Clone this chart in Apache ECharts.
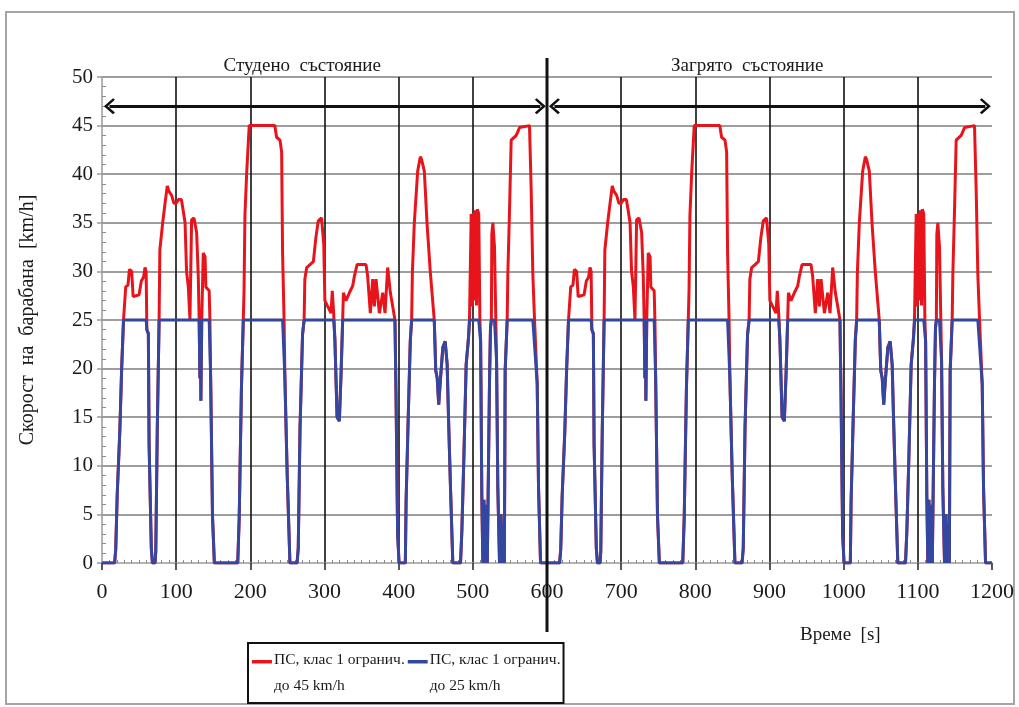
<!DOCTYPE html>
<html>
<head>
<meta charset="utf-8">
<script src="https://cdn.jsdelivr.net/npm/echarts@6/dist/echarts.min.js"></script>
<style>
html,body{margin:0;padding:0;background:#fff;}
#chart{width:1019px;height:707px;}
</style>
</head>
<body>
<div id="chart"></div>
<script>
// One test cycle (s); the chart shows it twice: cold state, then warm state
const cycleTime = [
  0,17,18.5,20.5,24,26.5,29,32,35,37,
  40,42,50,53,56,58,59.5,60.5,62.5,63.5,
  66.5,68,71.5,72.5,74.5,77,78,81.8,85,88,
  90,94,97,100,103,107,109,112,114,116.4,
  118.6,120.8,124,127.6,129.8,131,132,132.7,133.3,134.5,
  136.5,139,140,144.5,145.5,146.5,149,151.5,183,185,
  188,190.5,191.5,192.7,195,198.5,233,235.4,240,242.2,
  243.5,245.5,246.6,249.7,253.4,263,264.6,267,270.4,272.5,
  273.5,276,285,288.4,291.6,296,299,300.5,304.3,308.8,
  310.5,312.5,314,317,320,322.3,324.5,325.5,329,333.5,
  338,340.3,343.9,356,358.2,361.8,365,367.2,369.5,374,
  378.5,381.6,385.2,388.8,392,395,396.4,398.6,400.5,409,
  410,413,415.7,417.5,418.5,421.1,425.6,429.2,431,434.6,
  438.2,442.7,448,450,452,454,456.4,459.6,462.7,465.4,
  467.2,469.9,473,483.4,485.2,487.9,491,494.2,495.5,497.8,
  499,500.5,502,503.5,505,506,508,509.5,510.5,512.1,
  513.5,515,516.5,518,519.5,521.5,522.5,523.8,525,525.6,
  527,529.2,531,532,533.7,536,538,539.5,541,542.5,
  543.6,546.3,547.2,549.5,551.7,558.5,563,565,576.4,578.7,
  580.9,583.2,586.8,588.6,591.3,600
];
const redSpeed = [
  0,0,1.4,7,13.5,20,25,28.4,28.6,30.2,
  30,27.4,27.6,29,29.4,30.4,30,24,23.6,12.2,
  1.5,0,0,1.2,13.6,25,32.2,35,37,38.8,
  38.3,37.8,37,37,37.4,37.4,36.5,35,30,28.4,
  25,35.3,35.5,34,29.5,25,19,25,16.7,25,
  31.9,31.5,28.4,28,25,19,4.8,0,0,4.6,
  18,25,28,35.7,40,45,45,43.8,43.5,42.3,
  31.8,25,19,9.1,0,0,1.5,13.9,23.5,25,
  29.2,30.4,31,33.5,35.2,35.5,32.8,27,26.4,25.7,
  28,25.5,23,15,14.6,19.4,25,27.8,27,27.8,
  28.5,29.5,30.7,30.7,29.5,25.7,29.2,26.4,29.2,25.7,
  27.8,25.7,30.4,27.8,26.4,25,17.5,3,0,0,
  6.3,15.3,22.9,25,29.9,35,40.3,41.8,41.5,40.3,
  35,29.9,25,19.8,19,16.3,19,22.2,22.8,20.4,
  15,7.7,0,0,3.3,10.8,20.4,23.2,25,35.9,
  26.4,36,27,36.3,26.5,36.4,35.9,25,22.8,7,
  0,6.5,0,6,0,0,18.7,24.2,25,33.8,
  35,32.5,25,20.8,7.7,0,5,0,4,0,
  19.8,25,29.7,36.4,43.5,44,44.8,45,45,38.3,
  29.7,25,18.4,7.7,0,0
];
const blueSpeed = [
  0,0,1.4,7,13.5,20,25,25,25,25,
  25,25,25,25,25,25,25,24,23.6,12.2,
  1.5,0,0,1.2,13.6,25,25,25,25,25,
  25,25,25,25,25,25,25,25,25,25,
  25,25,25,25,25,25,19,25,16.7,25,
  25,25,25,25,25,19,4.8,0,0,4.6,
  18,25,25,25,25,25,25,25,25,25,
  25,25,19,9.1,0,0,1.5,13.9,23.5,25,
  25,25,25,25,25,25,25,25,25,25,
  25,25,23,15,14.6,19.4,25,25,25,25,
  25,25,25,25,25,25,25,25,25,25,
  25,25,25,25,25,25,17.5,3,0,0,
  6.3,15.3,22.9,25,25,25,25,25,25,25,
  25,25,25,19.8,19,16.3,19,22.2,22.8,20.4,
  15,7.7,0,0,3.3,10.8,20.4,23.2,25,25,
  25,25,25,25,25,25,25,25,22.8,7,
  0,6.5,0,6,0,0,18.7,24.2,25,25,
  25,25,25,20.8,7.7,0,5,0,4,0,
  19.8,25,25,25,25,25,25,25,25,25,
  25,25,18.4,7.7,0,0
];
const phaseStart = [0, 600];
const phaseEnd = [600, 1200];
const phaseNames = ['Студено  състояние', 'Загрято  състояние'];
const seriesNames = ['ПС, клас 1 огранич.\nдо 45 km/h', 'ПС, клас 1 огранич.\nдо 25 km/h'];
const seriesColors = ['#e8141c', '#3447a0'];
const xAxisTitle = 'Време  [s]';
const yAxisTitle = 'Скорост  на  барабана  [km/h]';
const arrowLevel = 47;

function buildSeries(values) {
  const out = [];
  phaseStart.forEach(function (s) {
    cycleTime.forEach(function (t, i) { out.push([t + s, values[i]]); });
  });
  return out;
}

const FONT = '"Liberation Serif", "DejaVu Serif", serif';
const chart = echarts.init(document.getElementById('chart'), null, {renderer: 'canvas'});

const chevron = 'path://M0,0L12,12L9.5,14.5L0,5L-9.5,14.5L-12,12Z';
const legendIcon = 'path://M0,0L20,0L20,3.5L0,3.5Z M0,26L0.1,26L0.1,26.1L0,26.1Z';

const option = {
  animation: false,
  backgroundColor: '#fff',
  grid: {left: 102, right: 27, top: 77, bottom: 144, containLabel: false},
  xAxis: [{
    type: 'value', min: 0, max: 1200, interval: 100,
    axisLine: {show: true, lineStyle: {color: '#9a9a9a', width: 1.5}},
    axisTick: {show: true, length: 7, lineStyle: {color: '#222', width: 1.5}},
    axisLabel: {color: '#1a1a1a', fontFamily: FONT, fontSize: 22, margin: 18,
      formatter: function (v) { return String(v); }},
    splitLine: {show: true, showMinLine: false, showMaxLine: false, lineStyle: {color: '#111', width: 1.6}},
    minorTick: {show: false}
  }, {
    type: 'value', min: 0, max: 1200, interval: 100, position: 'bottom',
    axisLine: {show: false},
    axisTick: {show: false, inside: true},
    axisLabel: {show: false},
    splitLine: {show: false},
    minorTick: {show: true, splitNumber: 10, length: 3, lineStyle: {color: '#8a8a8a', width: 1}}
  }],
  yAxis: [{
    type: 'value', min: 0, max: 50, interval: 5,
    name: yAxisTitle, nameLocation: 'middle', nameGap: 64, nameRotate: 90,
    nameTextStyle: {color: '#1a1a1a', fontFamily: FONT, fontSize: 20},
    axisLine: {show: true, lineStyle: {color: '#9a9a9a', width: 1.5}},
    axisTick: {show: true, length: 5, lineStyle: {color: '#9a9a9a', width: 1.5}},
    axisLabel: {color: '#1a1a1a', fontFamily: FONT, fontSize: 21, margin: 9},
    splitLine: {show: true, showMinLine: false, lineStyle: {color: '#9d9d9d', width: 2}},
    minorTick: {show: false}
  }, {
    type: 'value', min: 0, max: 50, interval: 5, position: 'left',
    axisLine: {show: false},
    axisTick: {show: false, inside: true},
    axisLabel: {show: false},
    splitLine: {show: false},
    minorTick: {show: true, splitNumber: 5, length: 4, lineStyle: {color: '#8a8a8a', width: 1}}
  }],
  legend: {
    left: 248, top: 643,
    orient: 'horizontal',
    borderColor: '#111', borderWidth: 2, borderRadius: 0,
    padding: [4, 3, 4, 4],
    itemGap: 3, itemWidth: 20, itemHeight: 26,
    icon: legendIcon,
    textStyle: {color: '#1a1a1a', fontFamily: FONT, fontSize: 15.5, lineHeight: 26, padding: [0, 0, 0, -3]},
    data: seriesNames
  },
  series: [{
    name: seriesNames[0], type: 'line', data: buildSeries(redSpeed),
    showSymbol: false, symbol: 'none', z: 3,
    lineStyle: {color: seriesColors[0], width: 3}, itemStyle: {color: seriesColors[0]},
    markLine: {
      silent: true, symbol: [chevron, chevron], symbolSize: [16, 11],
      label: {show: false},
      lineStyle: {color: '#111', width: 3, type: 'solid'},
      itemStyle: {color: '#111'},
      data: phaseStart.map(function (s, i) {
        return [{coord: [s + 10, arrowLevel]}, {coord: [phaseEnd[i] - 9, arrowLevel]}];
      })
    }
  }, {
    name: seriesNames[1], type: 'line', data: buildSeries(blueSpeed),
    showSymbol: false, symbol: 'none', z: 4,
    lineStyle: {color: seriesColors[1], width: 3}, itemStyle: {color: seriesColors[1]}
  }]
};
chart.setOption(option);

// annotations positioned through the chart's own scales
const top50 = chart.convertToPixel({gridIndex: 0}, [600, 50]);
const bottom0 = chart.convertToPixel({gridIndex: 0}, [600, 0]);
const graphics = [
  {type: 'rect', shape: {x: 6, y: 12, width: 1008, height: 692}, style: {fill: null, stroke: '#a5a5a5', lineWidth: 2}, z: 0, silent: true},
  {type: 'line', shape: {x1: top50[0], y1: top50[1] - 19, x2: bottom0[0], y2: bottom0[1] + 69}, style: {stroke: '#111', lineWidth: 3}, z: 100, silent: true},
  {type: 'text', left: 800, top: 626, style: {text: xAxisTitle, fill: '#1a1a1a', font: '19px ' + FONT}, z: 100}
];
phaseStart.forEach(function (s, i) {
  const p = chart.convertToPixel({gridIndex: 0}, [s + 270, 50]);
  graphics.push({type: 'text', x: p[0], y: p[1] - 1, style: {text: phaseNames[i], fill: '#1a1a1a', font: '19px ' + FONT, textAlign: 'center', textVerticalAlign: 'bottom'}, z: 100});
});
chart.setOption({graphic: graphics});
</script>
</body>
</html>
